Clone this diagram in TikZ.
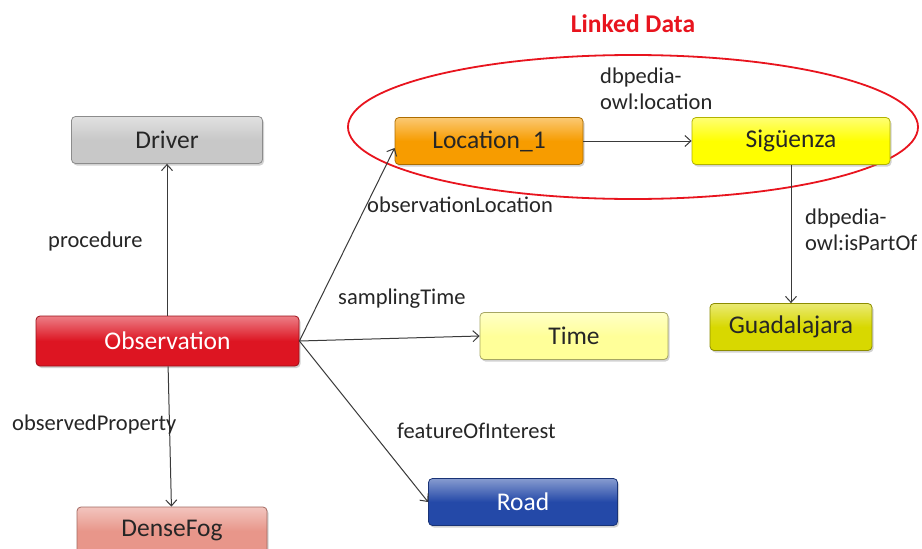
\documentclass[tikz,border=0pt]{standalone}
\usepackage{fontspec}
\setmainfont{Carlito}
\usetikzlibrary{shadows,arrows.meta,shapes.geometric}
\definecolor{txt}{HTML}{262626}
\definecolor{ln}{HTML}{3A3A3A}
\definecolor{ldred}{HTML}{E8141E}
\definecolor{dgray}{HTML}{C8C8C8}
\definecolor{obsred}{HTML}{DD1522}
\definecolor{salmon}{HTML}{E8968A}
\definecolor{locor}{HTML}{F79C00}
\definecolor{syel}{HTML}{FFFF00}
\definecolor{lyel}{HTML}{FFFF99}
\definecolor{olyel}{HTML}{D8D800}
\definecolor{rblue}{HTML}{2449A8}
\tikzset{
  box/.style n args={2}{draw=#2, line width=0.8pt, rounded corners=4pt,
    top color=#1!55!white, bottom color=#1, middle color=#1,
    inner sep=0pt, font=\fontsize{25.5}{30}\selectfont, text=txt,
    drop shadow={shadow xshift=1.5pt, shadow yshift=-2pt, opacity=0.35}},
  lbl/.style={font=\fontsize{22.5}{26}\selectfont, text=txt, inner sep=0pt, anchor=west},
  rel/.style={draw=ln, line width=1pt, -{Straight Barb[length=6pt,width=11pt]}}
}
\begin{document}
\begin{tikzpicture}[x=1pt,y=-1pt]
\path[use as bounding box, fill=white] (0,0) rectangle (922,549);

\node[ldred, font=\fontsize{25.5}{30}\selectfont\bfseries] (title) at (633,24) {Linked Data};
\node[draw=ldred, line width=1.8pt, ellipse, minimum width=570pt, minimum height=144pt, inner sep=0pt] (ld) at (633,127) {};

\node[box={dgray}{dgray!70!black}, minimum width=191pt, minimum height=47pt] (drv) at (167,140) {Driver};
\node[box={obsred}{obsred!70!black}, minimum width=263pt, minimum height=50pt, text=white] (obs) at (167.5,341) {Observation};
\node[box={salmon}{salmon!70!black}, minimum width=190pt, minimum height=48pt] (fog) at (172,531) {DenseFog};
\node[box={locor}{locor!70!black}, minimum width=188pt, minimum height=47pt] (loc) at (489,141) {Location\_1};
\node[box={syel}{syel!70!black}, minimum width=198pt, minimum height=47pt] (sig) at (791,141) {Sigüenza};
\node[box={lyel}{lyel!65!black}, minimum width=188pt, minimum height=47pt] (time) at (574,336) {Time};
\node[box={olyel}{olyel!65!black}, minimum width=162pt, minimum height=47pt] (gua) at (791,327) {Guadalajara};
\node[box={rblue}{rblue!70!black}, minimum width=189pt, minimum height=47pt, text=white] (road) at (523,502) {Road};

\draw[rel] (obs.north -| drv) -- (drv);
\draw[rel] (obs) -- (fog);
\draw[rel] (obs.east) -- ([yshift=-7pt]loc.west);
\draw[rel] (obs.east) -- (time.west);
\draw[rel] (obs.east) -- (road.west);
\draw[rel] (loc.east) -- (sig.west);
\draw[rel] (sig) -- (gua);

\node[lbl] (lproc) at (48,241) {procedure};
\node[lbl] (lprop) at (12,424) {observedProperty};
\node[lbl] (lloc) at (367,205) {observationLocation};
\node[lbl] (ltime) at (338,299) {samplingTime};
\node[lbl] (lfoi) at (397,431) {featureOfInterest};
\node[lbl, align=left] (ldbl) at (600,89) {dbpedia-\\owl:location};
\node[lbl, align=left] (ldbp) at (805,230) {dbpedia-\\owl:isPartOf};
\end{tikzpicture}
\end{document}
